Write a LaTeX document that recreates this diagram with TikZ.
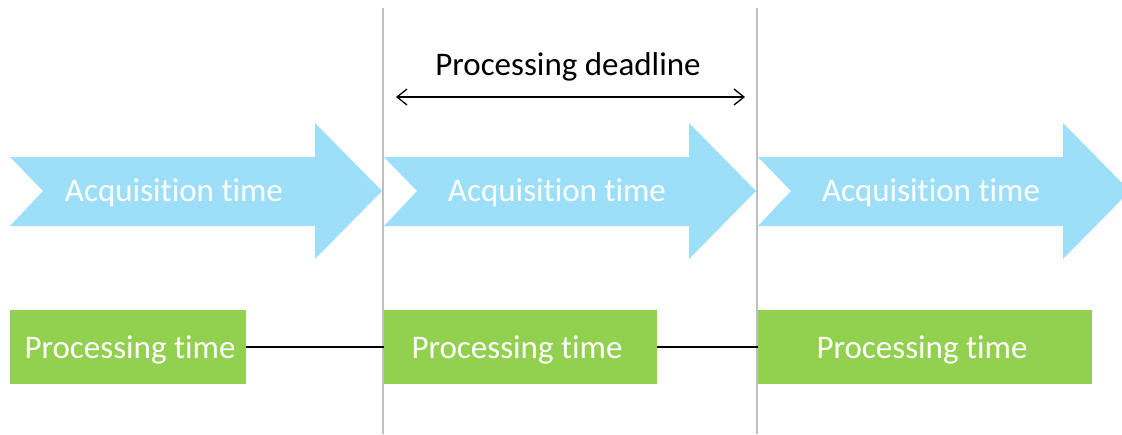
\documentclass[tikz,border=0pt]{standalone}
\usepackage{fontspec}
\setmainfont[Ligatures=NoCommon]{Carlito}
\usetikzlibrary{arrows.meta}
\definecolor{acqblue}{HTML}{9DDFF8}
\definecolor{procgreen}{HTML}{92D050}
\definecolor{divider}{HTML}{BFBFBF}
\tikzset{
  bigfont/.style={font=\fontsize{33}{38}\selectfont},
  acqshape/.style={fill=acqblue, draw=none},
  acqlabel/.style={bigfont, text=white, inner sep=0pt, anchor=base},
  procbox/.style={fill=procgreen, draw=none, minimum height=74pt, inner sep=0pt, anchor=west},
  proclabel/.style={bigfont, text=white, inner sep=0pt, anchor=base},
  link/.style={draw=black, line width=1.3pt},
  divline/.style={draw=divider, line width=1.6pt},
  deadline/.style={draw=black, line width=1.3pt, {Straight Barb[length=10pt,width=16pt]}-{Straight Barb[length=10pt,width=16pt]}},
}
\begin{document}
\begin{tikzpicture}[x=1pt,y=-1pt]
\useasboundingbox (0,0) rectangle (1122,434);
\clip (0,0) rectangle (1122,434);

% notched arrows for the acquisition intervals
\foreach \x in {10,384,758}{
  \fill[acqshape] (\x,157) -- (\x+305,157) -- (\x+305,123) -- (\x+372,191)
    -- (\x+305,259) -- (\x+305,226) -- (\x,226) -- (\x+33,191) -- cycle;
}
\node[acqlabel] (a1) at (174,201.5) {Acquisition time};
\node[acqlabel] (a2) at (557,201.5) {Acquisition time};
\node[acqlabel] (a3) at (931,201.5) {Acquisition time};

% frame boundaries
\coordinate (d1t) at (383,8);
\coordinate (d1b) at (383,434);
\coordinate (d2t) at (757,8);
\coordinate (d2b) at (757,434);
\draw[divline] (d1t) -- (d1b);
\draw[divline] (d2t) -- (d2b);

% deadline span
\coordinate (dl) at (396,97);
\coordinate (dr) at (745,97);
\draw[deadline] (dl) -- (dr);
\node[bigfont, inner sep=0pt, anchor=base] (dtext) at (568,75) {Processing deadline};

% processing blocks
\node[procbox, minimum width=236pt] (p1) at (10,347) {};
\node[procbox, minimum width=273pt] (p2) at (384,347) {};
\node[procbox, minimum width=334pt] (p3) at (758,347) {};
\node[proclabel] (t1) at (130,358) {Processing time};
\node[proclabel] (t2) at (517,358) {Processing time};
\node[proclabel] (t3) at (922,358) {Processing time};
\draw[link] (p1.east) -- (p2.west);
\draw[link] (p2.east) -- (p3.west);
\end{tikzpicture}
\end{document}
